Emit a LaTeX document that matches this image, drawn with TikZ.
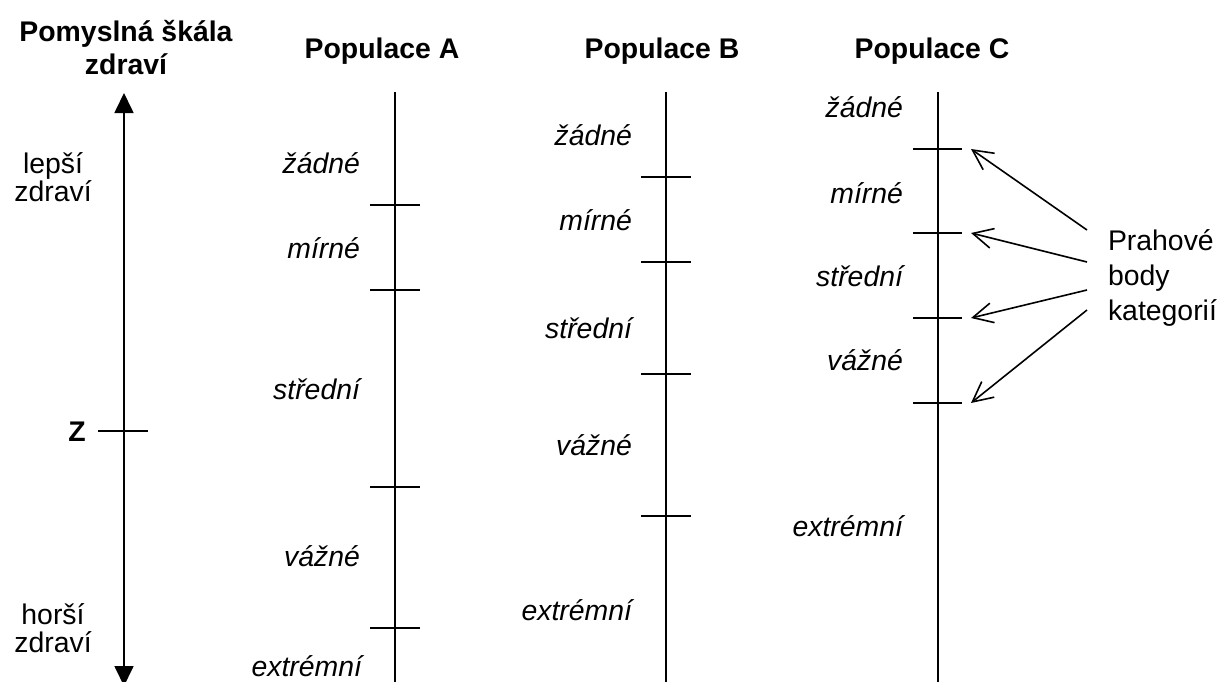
\documentclass[tikz,border=0pt]{standalone}
\usepackage{fontspec}
\setmainfont{Liberation Sans}
\usetikzlibrary{arrows.meta}
\begin{document}
\begin{tikzpicture}[x=0.5pt,y=-0.5pt,
  every node/.style={inner sep=0pt,outer sep=0pt,font=\fontsize{14.2}{14}\selectfont},
  axisline/.style={line width=0.85pt},
  tickline/.style={line width=0.85pt},
  lbl/.style={anchor=base east,font=\fontsize{14.2}{14}\selectfont\itshape},
  ttl/.style={anchor=base,font=\fontsize{14.2}{14}\selectfont\bfseries},
  side/.style={anchor=base,align=center,font=\fontsize{14.2}{14}\selectfont},
  ptr/.style={line width=0.8pt,-{Straight Barb[length=10pt,width=10pt,line width=0.8pt]}}]
\useasboundingbox (0,0) rectangle (1220,681);
% headings
\node[ttl,align=center,font=\fontsize{14.2}{16.5}\selectfont\bfseries] (hscale) at (126,74) {Pomyslná škála\\zdraví};
\node[ttl] (hA) at (382,58) {Populace A};
\node[ttl] (hB) at (662,58) {Populace B};
\node[ttl] (hC) at (932,58) {Populace C};
% left scale
\coordinate (stop) at (124,93);
\coordinate (sbot) at (124,686);
\draw[axisline,{Triangle[length=10pt,width=9.5pt]}-{Triangle[length=10pt,width=9.5pt]}] (sbot) -- (stop);
\node[side] (better) at (53,201) {lepší\\zdraví};
\node[side] (worse) at (53,652) {horší\\zdraví};
\coordinate (zl) at (98,431);
\coordinate (zr) at (148,431);
\draw[tickline] (zl) -- (zr);
\node[anchor=base,font=\fontsize{14.2}{14}\selectfont\bfseries] (Z) at (77,441) {Z};
% population A
\coordinate (Atop) at (395,92);
\coordinate (Abot) at (395,690);
\draw[axisline] (Atop) -- (Abot);
\foreach \yy in {205,290,487,628} {\draw[tickline] (370,\yy) -- (420,\yy);}
\node[lbl] (A1) at (360,173) {žádné};
\node[lbl] (A2) at (360,258) {mírné};
\node[lbl] (A3) at (360,399) {střední};
\node[lbl] (A4) at (360,566) {vážné};
\node[lbl] (A5) at (362,676) {extrémní};
% population B
\coordinate (Btop) at (666,92);
\coordinate (Bbot) at (666,690);
\draw[axisline] (Btop) -- (Bbot);
\foreach \yy in {177,262,374,516} {\draw[tickline] (641,\yy) -- (691,\yy);}
\node[lbl] (B1) at (632,145) {žádné};
\node[lbl] (B2) at (632,230) {mírné};
\node[lbl] (B3) at (632,338) {střední};
\node[lbl] (B4) at (632,455) {vážné};
\node[lbl] (B5) at (632,620) {extrémní};
% population C
\coordinate (Ctop) at (938,92);
\coordinate (Cbot) at (938,690);
\draw[axisline] (Ctop) -- (Cbot);
\foreach \yy in {149,233,318,403} {\draw[tickline] (913,\yy) -- (962,\yy);}
\node[lbl] (C1) at (903,117) {žádné};
\node[lbl] (C2) at (903,203) {mírné};
\node[lbl] (C3) at (903,286) {střední};
\node[lbl] (C4) at (903,370) {vážné};
\node[lbl] (C5) at (903,536) {extrémní};
% threshold pointers
\node[anchor=base west,align=left,font=\fontsize{14.2}{17.5}\selectfont] (prah) at (1108,320) {Prahové\\body\\kategorií};
\coordinate (p1) at (971,149);
\coordinate (p2) at (971,233);
\coordinate (p3) at (971,318);
\coordinate (p4) at (971,403);
\coordinate (q1) at (1087,230);
\coordinate (q2) at (1087,262);
\coordinate (q3) at (1087,290);
\coordinate (q4) at (1087,310);
\draw[ptr] (q1) -- (p1);
\draw[ptr] (q2) -- (p2);
\draw[ptr] (q3) -- (p3);
\draw[ptr] (q4) -- (p4);
\end{tikzpicture}
\end{document}
